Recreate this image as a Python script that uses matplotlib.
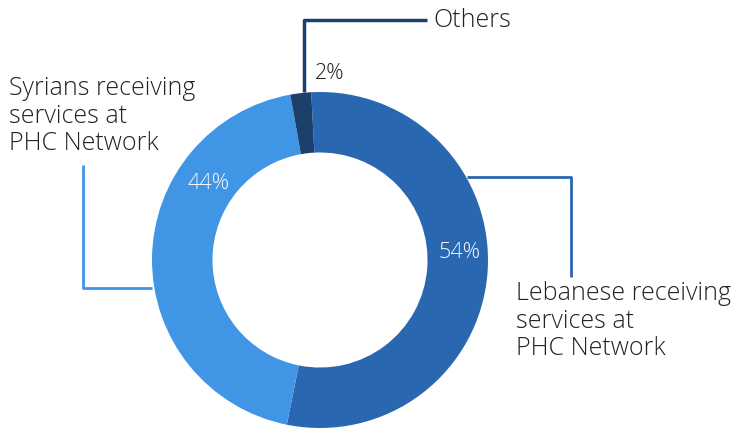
import matplotlib.pyplot as plt

labels = ['Lebanese receiving\nservices at\nPHC Network',
          'Syrians receiving\nservices at\nPHC Network',
          'Others']
shares = [54, 44, 2]
colors = ['#2A67B1', '#4195E5', '#1D3F6B']

W, H = 749, 428
cx, cy, r = 320, 168, 168

fig = plt.figure(figsize=(W / 100, H / 100), dpi=100)
ax = fig.add_axes([0, 0, 1, 1])

ax.pie(shares, colors=colors, startangle=93, counterclock=False,
       center=(cx, cy), radius=r,
       wedgeprops=dict(width=r * 0.36, linewidth=0))

ax.set_xlim(0, W)
ax.set_ylim(0, H)
ax.set_aspect('equal')
ax.axis('off')

font = ['Open Sans', 'DejaVu Sans']
txt = '#222222'

# percentage labels
ax.text(460, 175, f'{shares[0]}%', color='white', fontsize=15.5, family=font,
        fontweight='light', ha='center', va='center', alpha=0.95)
ax.text(209, 245, f'{shares[1]}%', color='white', fontsize=15.5, family=font,
        fontweight='light', ha='center', va='center', alpha=0.95)
ax.text(330, 355, f'{shares[2]}%', color=txt, fontsize=15.5, family=font,
        fontweight='light', ha='center', va='center')

# leader lines
ax.plot([467, 571, 571], [251, 251, 151], color=colors[0], lw=2, solid_capstyle='butt')
ax.plot([152, 83, 83], [140, 140, 263], color=colors[1], lw=2, solid_capstyle='butt')
ax.plot([304, 304, 427], [336, 408, 408], color=colors[2], lw=2.5, solid_capstyle='butt')

# category labels
ax.text(516, 107, labels[0], color=txt, fontsize=18, family=font,
        fontweight='light', ha='left', va='center', linespacing=1.12)
ax.text(9, 312, labels[1], color=txt, fontsize=18, family=font,
        fontweight='light', ha='left', va='center', linespacing=1.12)
ax.text(433, 408, labels[2], color=txt, fontsize=18, family=font,
        fontweight='light', ha='left', va='center')

fig.savefig('out.png', dpi=100)
